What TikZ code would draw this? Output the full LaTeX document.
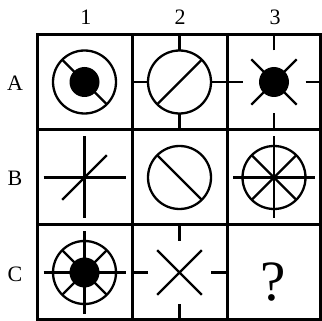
\documentclass[tikz,border=0pt]{standalone}
\usepackage{fontspec}
\setmainfont{Liberation Serif}
\begin{document}
\begin{tikzpicture}[x=1pt,y=-1pt,
  gridline/.style={line width=3pt},
  fig/.style={line width=2.3pt},
  lab/.style={font=\fontsize{22}{22}\selectfont, inner sep=0pt},
  qmark/.style={font=\fontsize{57}{57}\selectfont, inner sep=0pt}]
\useasboundingbox (0,0) rectangle (322,321);
% labels
\node[lab] (c1) at (86,17) {1};
\node[lab] (c2) at (180,17) {2};
\node[lab] (c3) at (275,17) {3};
\node[lab] (rA) at (15,83) {A};
\node[lab] (rB) at (15,178) {B};
\node[lab] (rC) at (15,274) {C};
% grid
\draw[gridline] (37,35) rectangle (320,319);
\draw[gridline] (132,35) -- (132,319) (227,35) -- (227,319);
\draw[gridline] (37,130) -- (320,130) (37,225) -- (320,225);
\def\R{31.5}
\def\D{22.3}
% A1
\begin{scope}[shift={(84.5,82)}]
  \draw[fig] (0,0) circle (\R);
  \draw[fig] (-\D,-\D) -- (\D,\D);
  \fill (0,0) circle (15);
\end{scope}
% A2
\begin{scope}[shift={(179.5,82)}]
  \draw[fig] (0,0) circle (\R);
  \draw[fig] (-\D,\D) -- (\D,-\D);
  \draw[fig] (0,-\R) -- (0,-47.5) (0,\R) -- (0,47.5) (-\R,0) -- (-47.5,0) (\R,0) -- (47.5,0);
\end{scope}
% A3
\begin{scope}[shift={(274,82)}]
  \fill (0,0) circle (15);
  \foreach \a in {45,135,225,315} \draw[fig] (\a:14) -- (\a:32);
  \draw[fig] (0,-\R) -- (0,-47.5) (0,\R) -- (0,47.5) (-\R,0) -- (-47.5,0) (\R,0) -- (47.5,0);
\end{scope}
% B1
\begin{scope}[shift={(84.5,177.5)}]
  \draw[fig] (-41,0) -- (41,0) (0,-41) -- (0,41);
  \draw[fig] (-\D,\D) -- (\D,-\D);
\end{scope}
% B2
\begin{scope}[shift={(179.5,177.5)}]
  \draw[fig] (0,0) circle (\R);
  \draw[fig] (-\D,-\D) -- (\D,\D);
\end{scope}
% B3
\begin{scope}[shift={(274,177.5)}]
  \draw[fig] (0,0) circle (\R);
  \draw[fig] (-\D,-\D) -- (\D,\D) (-\D,\D) -- (\D,-\D);
  \draw[fig] (-41,0) -- (41,0) (0,-41) -- (0,41);
\end{scope}
% C1
\begin{scope}[shift={(84.5,272.5)}]
  \draw[fig] (0,0) circle (\R);
  \draw[fig] (-\D,-\D) -- (\D,\D) (-\D,\D) -- (\D,-\D);
  \draw[fig] (-41,0) -- (41,0) (0,-41) -- (0,41);
  \fill (0,0) circle (15);
\end{scope}
% C2
\begin{scope}[shift={(179.5,272.5)}]
  \draw[fig] (-\D,-\D) -- (\D,\D) (-\D,\D) -- (\D,-\D);
  \draw[fig] (0,-\R) -- (0,-47.5) (0,\R) -- (0,47.5) (-\R,0) -- (-47.5,0) (\R,0) -- (47.5,0);
\end{scope}
% C3
\node[qmark] (q) at (273.5,282) {?};
\end{tikzpicture}
\end{document}
